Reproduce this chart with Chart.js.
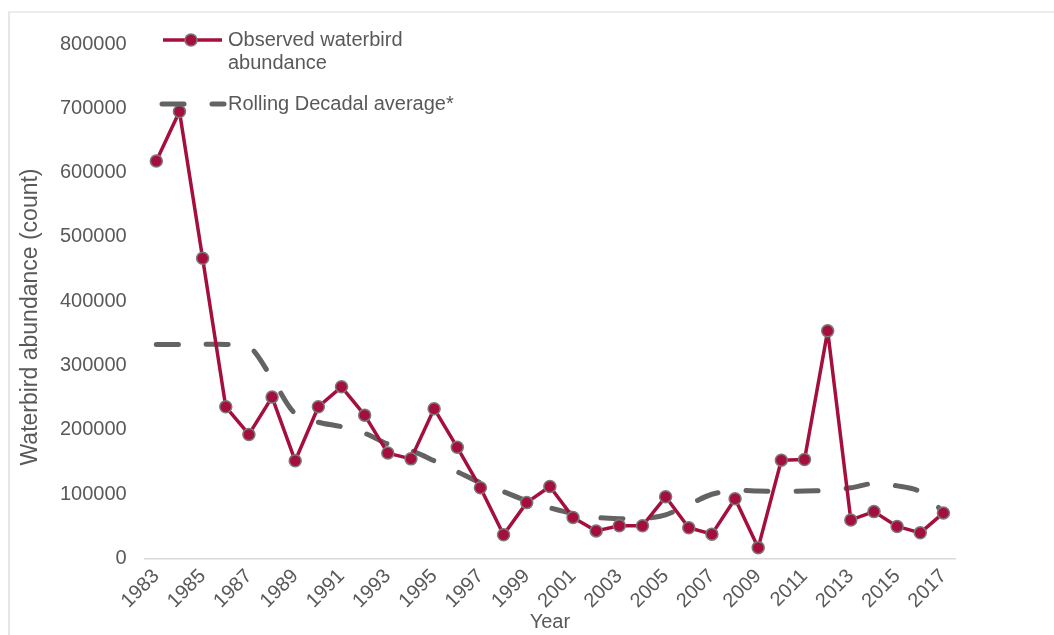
<!DOCTYPE html>
<html>
<head>
<meta charset="utf-8">
<title>Waterbird abundance</title>
<script src="https://cdn.jsdelivr.net/npm/chart.js@4.4.1/dist/chart.umd.min.js"></script>
<style>
  html, body { margin: 0; padding: 0; background: #fff; }
  #frame { position: absolute; left: 8px; top: 11px; width: 1046px; height: 624px;
           border-top: 2px solid #ededed; border-left: 2px solid #e6e6e6; box-sizing: border-box; }
  #wrap { position: absolute; left: 0; top: 0; width: 1054px; height: 635px; }
</style>
</head>
<body>
<div id="frame"></div>
<div id="wrap"><canvas id="birdChart"></canvas></div>
<script>
var years = ["1983", "1984", "1985", "1986", "1987", "1988", "1989", "1990", "1991", "1992",
             "1993", "1994", "1995", "1996", "1997", "1998", "1999", "2000", "2001", "2002",
             "2003", "2004", "2005", "2006", "2007", "2008", "2009", "2010", "2011", "2012",
             "2013", "2014", "2015", "2016", "2017"];

var observed = [618000, 695000, 467000, 236000, 193000, 251000, 152000, 236000, 267000, 223000,
                164000, 155000, 233000, 173000, 110000, 37000, 87000, 112000, 64000, 43000,
                51000, 51000, 96000, 48000, 38000, 93000, 17000, 153000, 154000, 354000,
                60000, 73000, 50000, 40000, 71000];

var rollingAverage = [333000, 333000, 333000, 333000, 330000, 280000, 225000, 212000, 205000, 195000,
                      178000, 168000, 152000, 135000, 118000, 104000, 90000, 79000, 70000, 64000,
                      62000, 62000, 68000, 84000, 100000, 106000, 105000, 104000, 105000, 106000,
                      110000, 117000, 113000, 104000, 72000];

var yTicks = [0, 100000, 200000, 300000, 400000, 500000, 600000, 700000, 800000];

var textColor = "#595959";
var redLine = "#A50F3D";
var greyLine = "#636363";

Chart.defaults.font.family = "'Liberation Sans', Arial, sans-serif";
Chart.defaults.font.size = 20;
Chart.defaults.color = textColor;

// legend drawn inside the plot, top left, plus the y title which sits a bit low in the original
var insideLegend = {
    id: "insideLegend",
    afterDatasetsDraw: function (chart) {
        var ctx = chart.ctx;
        var obs = chart.data.datasets[0];
        var avg = chart.data.datasets[1];
        ctx.save();
        ctx.lineCap = "butt";
        ctx.strokeStyle = obs.borderColor;
        ctx.lineWidth = obs.borderWidth;
        ctx.beginPath();
        ctx.moveTo(163, 40);
        ctx.lineTo(222, 40);
        ctx.stroke();
        ctx.beginPath();
        ctx.arc(191, 40, obs.pointRadius, 0, Math.PI * 2);
        ctx.fillStyle = obs.pointBackgroundColor;
        ctx.fill();
        ctx.lineWidth = obs.pointBorderWidth;
        ctx.strokeStyle = obs.pointBorderColor;
        ctx.stroke();

        ctx.strokeStyle = avg.borderColor;
        ctx.lineWidth = avg.borderWidth;
        ctx.lineCap = "round";
        ctx.setLineDash(avg.borderDash);
        ctx.beginPath();
        ctx.moveTo(162, 104);
        ctx.lineTo(224, 104);
        ctx.stroke();
        ctx.setLineDash([]);

        ctx.fillStyle = textColor;
        ctx.font = "20px 'Liberation Sans', Arial, sans-serif";
        ctx.textBaseline = "middle";
        ctx.textAlign = "left";
        ctx.fillText("Observed waterbird", 228, 40);
        ctx.fillText("abundance", 228, 63);
        ctx.fillText("Rolling Decadal average*", 228, 104);

        ctx.translate(31, 317);
        ctx.rotate(-Math.PI / 2);
        ctx.textAlign = "center";
        ctx.font = "23px 'Liberation Sans', Arial, sans-serif";
        ctx.fillText("Waterbird abundance (count)", 0, 0);
        ctx.restore();
    }
};

var ctx = document.getElementById("birdChart").getContext("2d");
new Chart(ctx, {
    type: "line",
    data: {
        labels: years,
        datasets: [{
            label: "Observed waterbird abundance",
            data: observed,
            borderColor: redLine,
            borderWidth: 3.5,
            borderJoinStyle: "round",
            pointRadius: 6,
            pointBackgroundColor: redLine,
            pointBorderColor: "#7a7a7a",
            pointBorderWidth: 1.5,
            tension: 0,
            fill: false
        }, {
            label: "Rolling Decadal average*",
            data: rollingAverage,
            borderColor: greyLine,
            borderWidth: 5,
            borderDash: [22, 28],
            borderCapStyle: "round",
            pointRadius: 0,
            tension: 0.3,
            fill: false
        }]
    },
    options: {
        responsive: true,
        maintainAspectRatio: false,
        animation: false,
        layout: { padding: { left: 42, top: 44, right: 99, bottom: 1 } },
        plugins: {
            legend: { display: false },
            tooltip: { enabled: false }
        },
        scales: {
            x: {
                offset: true,
                grid: { display: false, drawTicks: false },
                border: { color: "#d9d9d9", width: 1.5 },
                ticks: {
                    autoSkip: false,
                    minRotation: 45,
                    maxRotation: 45,
                    padding: 6,
                    callback: function (value, index) {
                        return index % 2 === 0 ? years[index] : "";
                    }
                },
                title: { display: true, text: "Year", padding: { top: -9, bottom: 0 } }
            },
            y: {
                min: yTicks[0],
                max: yTicks[yTicks.length - 1],
                afterBuildTicks: function (axis) {
                    axis.ticks = yTicks.map(function (v) { return { value: v }; });
                },
                grid: { display: false, drawTicks: false },
                border: { display: false },
                ticks: {
                    padding: 18,
                    callback: function (value) { return String(value); }
                },
                title: { display: false }
            }
        }
    },
    plugins: [insideLegend]
});
</script>
</body>
</html>
